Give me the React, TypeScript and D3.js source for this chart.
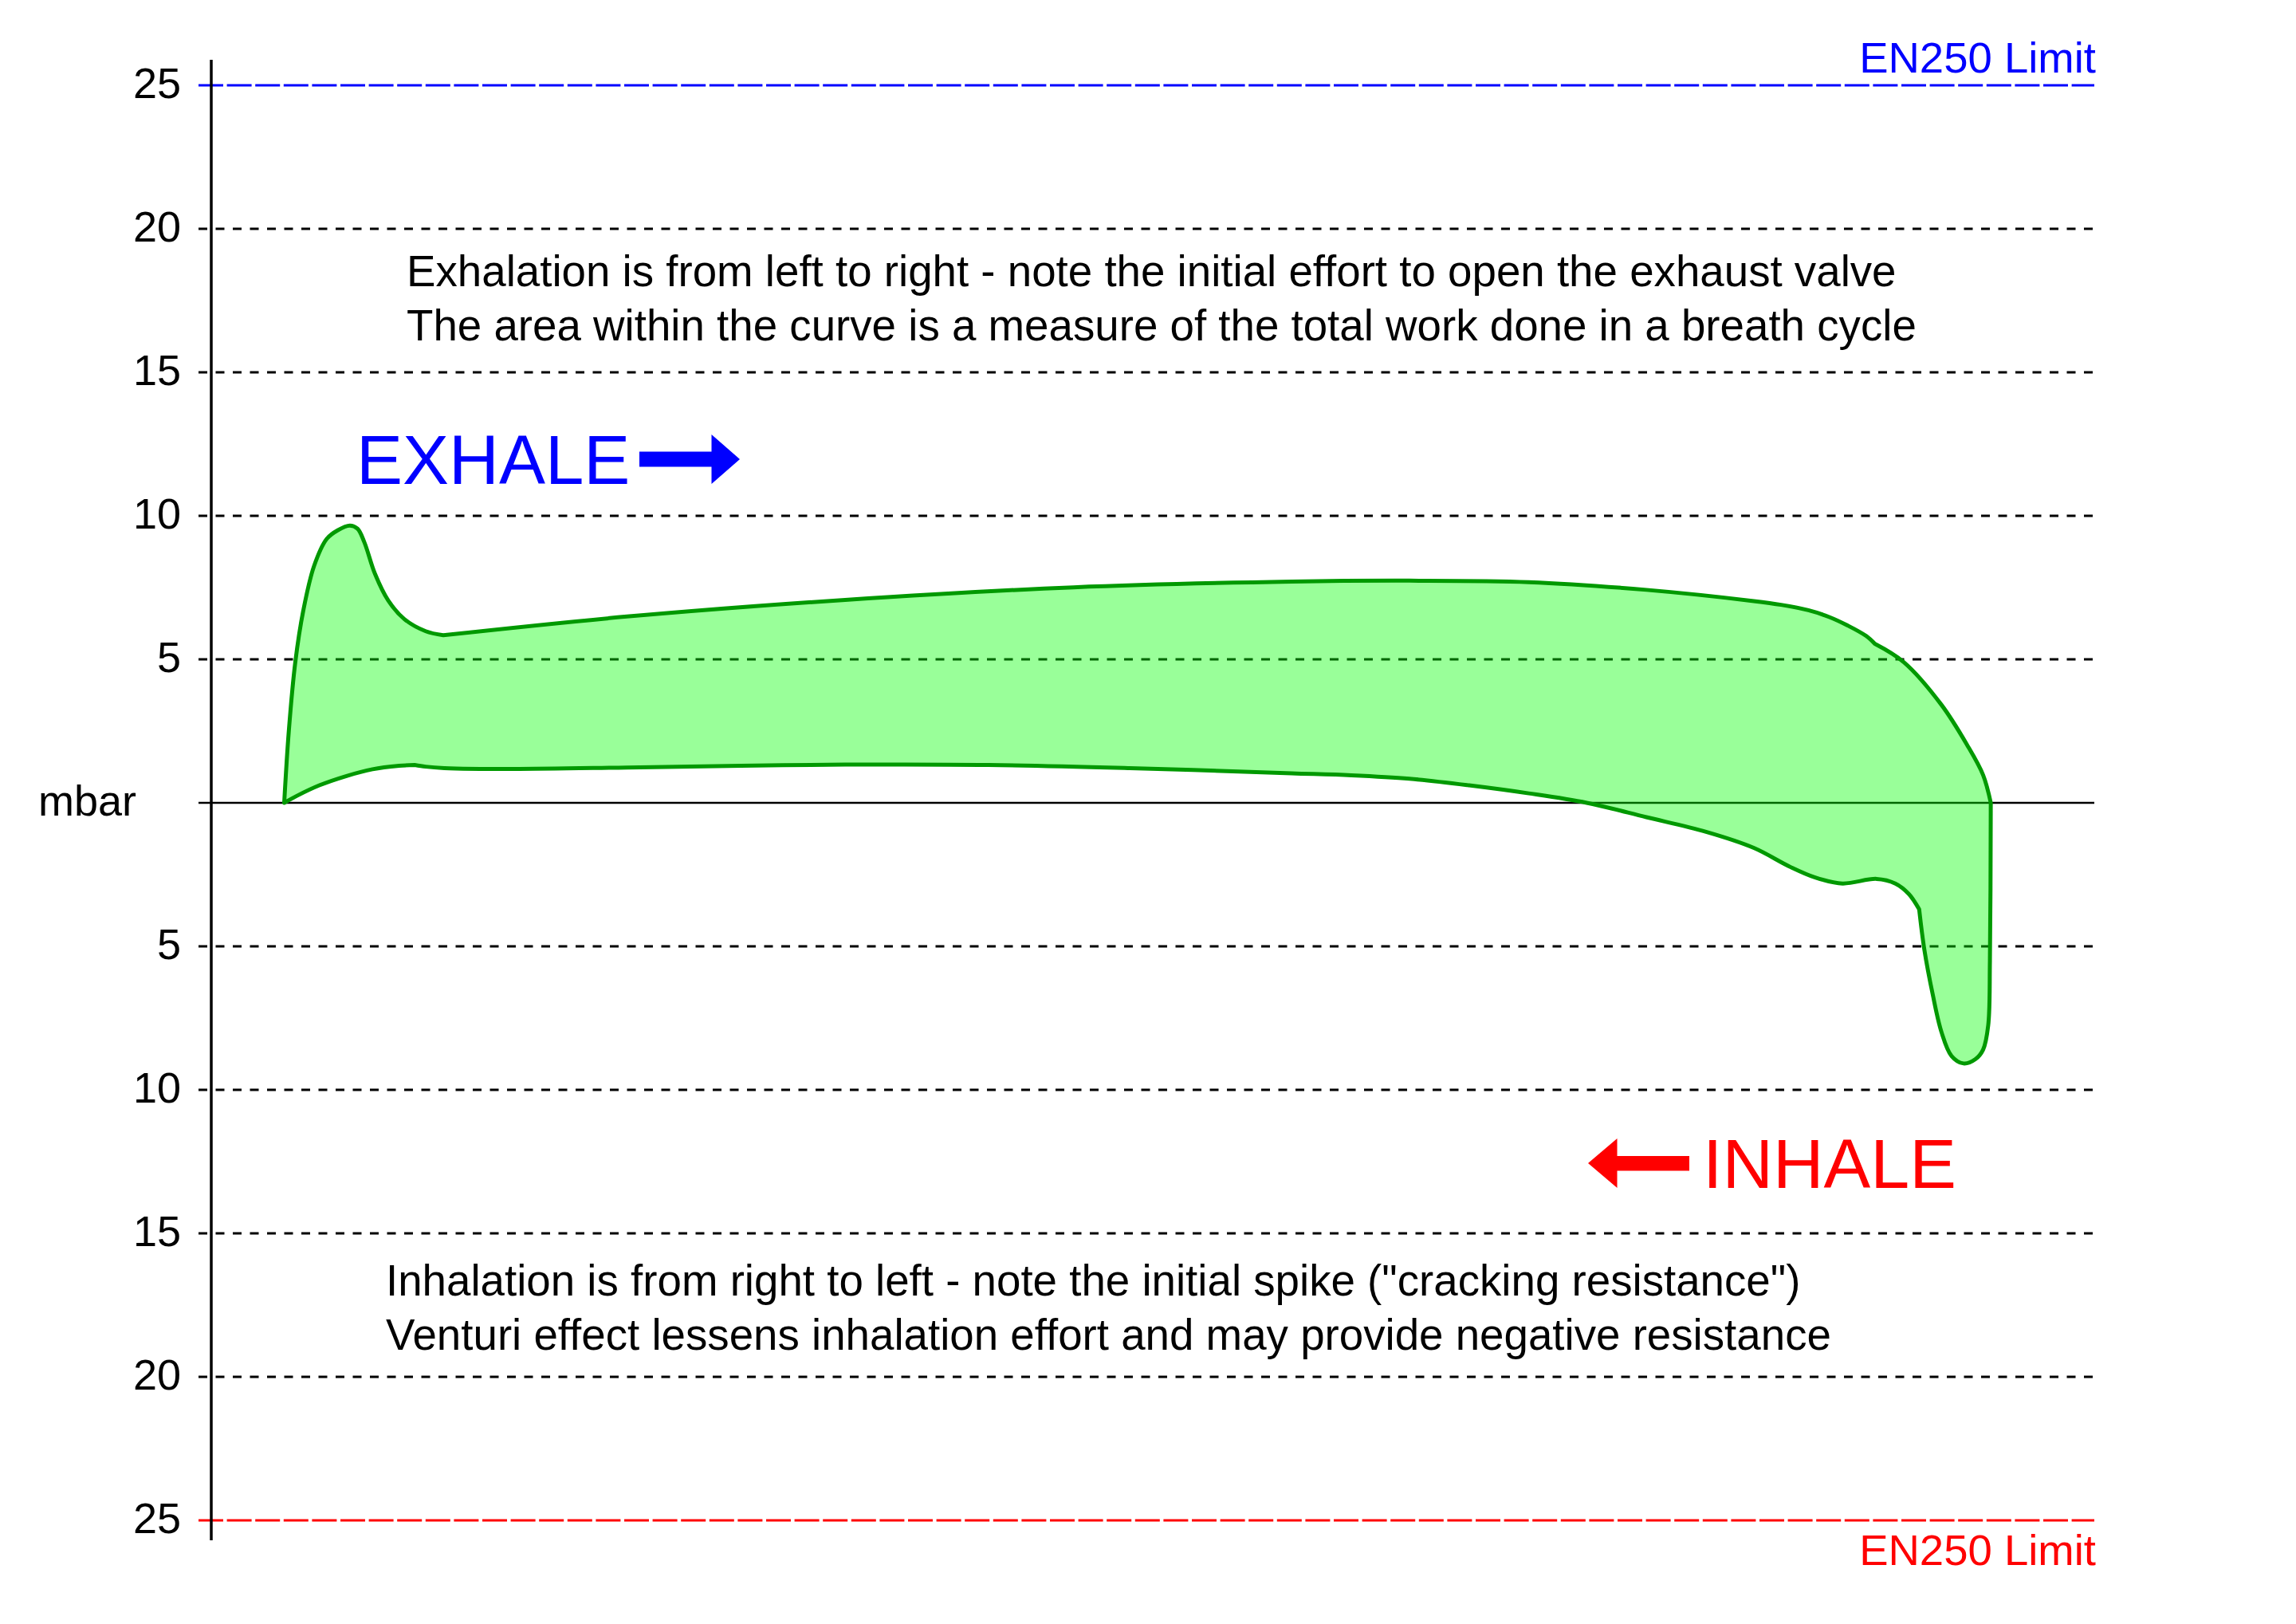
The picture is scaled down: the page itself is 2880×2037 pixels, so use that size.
import React from "react";
import * as d3 from "d3";

// ---- Axis / annotation data ----
const tickValues = [25, 20, 15, 10, 5, 0, -5, -10, -15, -20, -25];
const tickLabels = ["25", "20", "15", "10", "5", "mbar", "5", "10", "15", "20", "25"];
const limitLabel = "EN250 Limit";
const exhaleNotes = [
  "Exhalation is from left to right - note the initial effort to open the exhaust valve",
  "The area within the curve is a measure of the total work done in a breath cycle",
];
const inhaleNotes = [
  "Inhalation is from right to left - note the initial spike (\"cracking resistance\")",
  "Venturi effect lessens inhalation effort and may provide negative resistance",
];

// ---- Curve data (x = breath progress %, y = mbar) ----
// Exhale: opening spike
const exhaleSpikeX = [0, 0.27, 0.65, 1.12, 1.75, 2.5, 3.15, 3.85, 4.3, 4.7, 5.33, 6.1, 7.05, 8.3, 9.33];
const exhaleSpikeP = [0, 2.5, 4.9, 6.7, 8.25, 9.2, 9.5, 9.66, 9.55, 9.08, 7.97, 7.05, 6.4, 5.98, 5.84];
// Exhale: plateau
const exhalePlateauX = [9.33, 20.1, 32.9, 46.3, 59.1, 66.0, 73.0, 79.9, 86.2, 87.8, 89.4, 90.6, 91.7, 92.8, 93.3];
const exhalePlateauP = [5.84, 6.49, 7.07, 7.51, 7.71, 7.74, 7.69, 7.42, 7.03, 6.9, 6.71, 6.48, 6.18, 5.81, 5.54];
// Exhale: closing
const exhaleEndX = [93.3, 95.0, 97.2, 98.7, 99.65, 100.1];
const exhaleEndP = [5.54, 4.9, 3.42, 2.03, 0.97, 0];
// Inhale: cracking spike (right to left)
const inhaleSpikeX = [100.1, 100.05, 99.95, 99.65, 99.2, 98.5, 97.8, 97.2, 96.7, 96.2, 95.9];
const inhaleSpikeP = [0, -5.5, -7.75, -8.6, -8.93, -9.08, -8.82, -7.97, -6.69, -5.1, -3.71];
// Inhale: main body
const inhaleBodyX = [95.9, 95.3, 94.5, 93.4, 91.4, 89.8, 88.3, 86.2, 83.4, 79.9, 76.4, 73.0, 69.5, 66.0, 62.6, 59.1, 49.6, 41.3, 32.9, 26.8, 20.1, 13.4, 9.4, 8.3, 7.65];
const inhaleBodyP = [-3.71, -3.18, -2.81, -2.65, -2.81, -2.6, -2.22, -1.57, -1.01, -0.5, 0, 0.33, 0.61, 0.84, 0.96, 1.03, 1.21, 1.32, 1.33, 1.29, 1.23, 1.18, 1.21, 1.26, 1.32];
// Inhale: end
const inhaleEndX = [7.65, 6.74, 5.18, 3.62, 2.06, 0.73, 0];
const inhaleEndP = [1.32, 1.29, 1.17, 0.93, 0.61, 0.24, 0];

const W = 2880;
const H = 2037;
const FONT = "'Liberation Sans', Arial, sans-serif";

export default function App() {
  const y = d3.scaleLinear().domain([-25, 25]).range([1907, 107]);
  const x = d3.scaleLinear().domain([0, 100]).range([356.5, 2495]);

  const axisX = 265;
  const gridX0 = 249;
  const gridX1 = 2627;

  const mk = (curve: d3.CurveFactory) =>
    d3
      .line<[number, number]>()
      .x((d) => x(d[0]))
      .y((d) => y(d[1]))
      .curve(curve);
  const cr = mk(d3.curveCatmullRom.alpha(0.5));

  const segs: [number[], number[], any][] = [
    [exhaleSpikeX, exhaleSpikeP, cr],
    [exhalePlateauX, exhalePlateauP, cr],
    [exhaleEndX, exhaleEndP, cr],
    [inhaleSpikeX, inhaleSpikeP, cr],
    [inhaleBodyX, inhaleBodyP, cr],
    [inhaleEndX, inhaleEndP, cr],
  ];
  const pathD =
    segs
      .map(([xs, ps, gen], i) => {
        const d = gen(xs.map((v: number, k: number) => [v, ps[k]] as [number, number])) || "";
        return i === 0 ? d : "L" + d.slice(1);
      })
      .join("") + "Z";

  const noteSize = 54.7;

  return (
    <svg
      width={W}
      height={H}
      viewBox={`0 0 ${W} ${H}`}
      style={{ position: "absolute", left: 0, top: 0, background: "#fff" }}
      fontFamily={FONT}
    >
      <rect x={0} y={0} width={W} height={H} fill="#fff" />
      {/* grid lines */}
      {tickValues.map((t, i) => {
        const yy = y(t);
        let stroke = "#000";
        let dash: string | undefined = "11,10.5";
        let sw = 3;
        if (t === 25) {
          stroke = "#0000ff";
          dash = "31,4.6";
        } else if (t === -25) {
          stroke = "#ff0000";
          dash = "31,4.6";
        } else if (t === 0) {
          dash = undefined;
          sw = 2.5;
        }
        return (
          <line
            key={"g" + i}
            x1={gridX0}
            x2={gridX1}
            y1={yy}
            y2={yy}
            stroke={stroke}
            strokeWidth={sw}
            strokeDasharray={dash}
          />
        );
      })}
      {/* axis */}
      <line x1={axisX} x2={axisX} y1={75} y2={1932} stroke="#000" strokeWidth={3.5} />
      {/* tick labels */}
      {tickValues.map((t, i) =>
        t === 0 ? (
          <text key={"l" + i} x={48} y={y(t) + 16} fontSize={54} fill="#000">
            {tickLabels[i]}
          </text>
        ) : (
          <text key={"l" + i} x={227} y={y(t) + 16} fontSize={54} fill="#000" textAnchor="end">
            {tickLabels[i]}
          </text>
        )
      )}
      {/* limit labels */}
      <text x={2629} y={91} fontSize={54.5} fill="#0000ff" textAnchor="end">
        {limitLabel}
      </text>
      <text x={2629} y={1963} fontSize={54.5} fill="#ff0000" textAnchor="end">
        {limitLabel}
      </text>
      {/* notes */}
      {exhaleNotes.map((s, i) => (
        <text key={"e" + i} x={510} y={359 + i * 68.3} fontSize={noteSize} fill="#000">
          {s}
        </text>
      ))}
      {inhaleNotes.map((s, i) => (
        <text key={"n" + i} x={484} y={1625 + i * 68.3} fontSize={noteSize} fill="#000">
          {s}
        </text>
      ))}
      {/* EXHALE / INHALE */}
      <text x={447} y={607} fontSize={87} fill="#0000ff">
        EXHALE
      </text>
      <polygon
        points="802,566.5 892.5,566.5 892.5,545 928,576 892.5,607 892.5,585.5 802,585.5"
        fill="#0000ff"
      />
      <text x={2136} y={1490} fontSize={88} fill="#ff0000">
        INHALE
      </text>
      <polygon
        points="2119,1450 2028.5,1450 2028.5,1428 1992,1459 2028.5,1490 2028.5,1468.5 2119,1468.5"
        fill="#ff0000"
      />
      {/* breath loop */}
      <path d={pathD} fill="#00ff00" fillOpacity={0.4} stroke="#009900" strokeWidth={5} strokeLinejoin="round" />
    </svg>
  );
}
